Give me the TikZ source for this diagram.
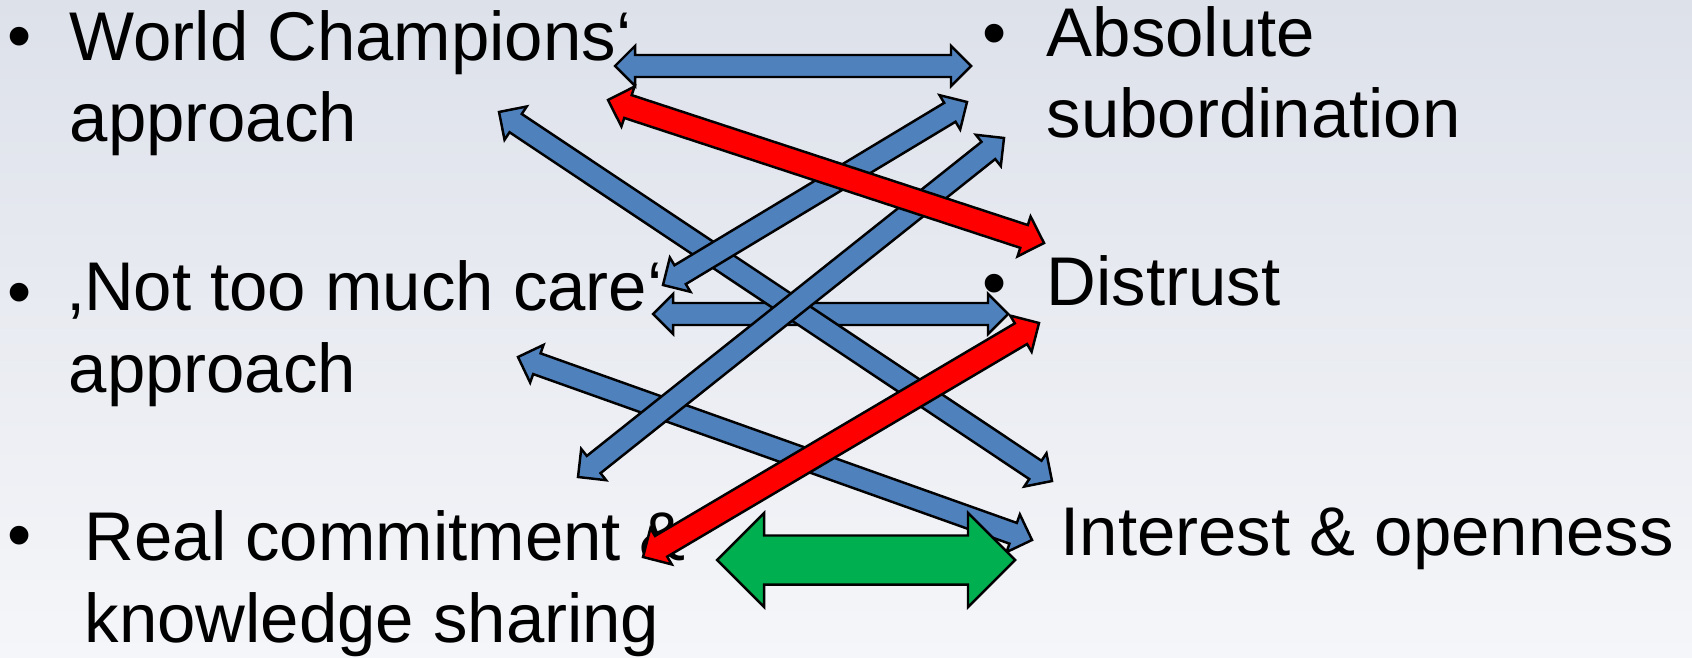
\documentclass[tikz,border=0pt]{standalone}
\usepackage{fontspec}
\setmainfont{Liberation Sans}
\usetikzlibrary{calc}

\definecolor{bgtop}{RGB}{221,225,234}
\definecolor{bgbottom}{RGB}{245,246,249}
\definecolor{arrowblue}{RGB}{79,129,189}
\definecolor{arrowred}{RGB}{255,0,0}
\definecolor{arrowgreen}{RGB}{0,176,80}

% double block arrow: from, to, shaft half width, head half width, head length, style
\newcommand{\blockarrow}[6]{%
  \filldraw[#6] (#1)
    -- ($(#1)!#5!(#2)!#4!90:(#2)$)
    -- ($(#1)!#5!(#2)!#3!90:(#2)$)
    -- ($(#2)!#5!(#1)!#3!-90:(#1)$)
    -- ($(#2)!#5!(#1)!#4!-90:(#1)$)
    -- (#2)
    -- ($(#2)!#5!(#1)!#4!90:(#1)$)
    -- ($(#2)!#5!(#1)!#3!90:(#1)$)
    -- ($(#1)!#5!(#2)!#3!-90:(#2)$)
    -- ($(#1)!#5!(#2)!#4!-90:(#2)$)
    -- cycle;}

\tikzset{
  item/.style={anchor=base west,align=left,inner sep=0pt},
  dot/.style={anchor=base,inner sep=0pt},
  blue arrow/.style={fill=arrowblue,draw=black,line width=0.7pt},
  red arrow/.style={fill=arrowred,draw=black,line width=0.7pt},
  green arrow/.style={fill=arrowgreen,draw=black,line width=0.7pt}
}

\begin{document}
\begin{tikzpicture}[x=0.01cm,y=-0.01cm,font=\fontsize{19.6}{23.3}\selectfont]
  \useasboundingbox (0,0) rectangle (1692,658);
  \shade[top color=bgtop,bottom color=bgbottom] (0,0) rectangle (1692,658);

  % left column (base = last line)
  \node[dot] (wcdot) at (20,60) {•};
  \node[item] (wc) at (69,142) {World Champions‘\\approach};
  \node[dot] (ntdot) at (20,315) {•};
  \node[item] (nt) at (68,392) {‚Not too much care‘\\approach};
  \node[dot] (rcdot) at (20,558) {•};
  \node[item] (rc) at (84,642) {Real commitment \&\\knowledge sharing};

  % right column
  \node[dot] (absdot) at (995,57) {•};
  \node[item] (abs) at (1046,138) {Absolute\\subordination};
  \node[dot] (disdot) at (995,307) {•};
  \node[item] (dis) at (1046,305) {Distrust};
  \node[item] (int) at (1060,555) {Interest \& openness};

  % arrow ends
  \coordinate (wcA) at (615,66);   \coordinate (absA) at (971,66);
  \coordinate (wcB) at (608,100);  \coordinate (disA) at (1044,243);
  \coordinate (ntA) at (663,285);  \coordinate (absB) at (967,102);
  \coordinate (rcA) at (578,477);  \coordinate (absC) at (1004,138);
  \coordinate (wcC) at (499,112);  \coordinate (intA) at (1052,481);
  \coordinate (ntB) at (653,314);  \coordinate (disB) at (1008,314);
  \coordinate (rcB) at (643,557);  \coordinate (disC) at (1039,323);
  \coordinate (ntC) at (518,357);  \coordinate (intB) at (1032,540);
  \coordinate (rcC) at (717,560);  \coordinate (intC) at (1015,560);

  \blockarrow{ntB}{disB}{0.11cm}{0.2cm}{0.2cm}{blue arrow}
  \blockarrow{wcC}{intA}{0.11cm}{0.2cm}{0.2cm}{blue arrow}
  \blockarrow{ntC}{intB}{0.11cm}{0.2cm}{0.2cm}{blue arrow}
  \blockarrow{ntA}{absB}{0.11cm}{0.2cm}{0.2cm}{blue arrow}
  \blockarrow{rcA}{absC}{0.11cm}{0.2cm}{0.2cm}{blue arrow}
  \blockarrow{wcA}{absA}{0.11cm}{0.2cm}{0.2cm}{blue arrow}
  \blockarrow{wcB}{disA}{0.12cm}{0.21cm}{0.21cm}{red arrow}
  \blockarrow{rcB}{disC}{0.12cm}{0.21cm}{0.21cm}{red arrow}
  \blockarrow{rcC}{intC}{0.245cm}{0.47cm}{0.47cm}{green arrow}
\end{tikzpicture}
\end{document}
